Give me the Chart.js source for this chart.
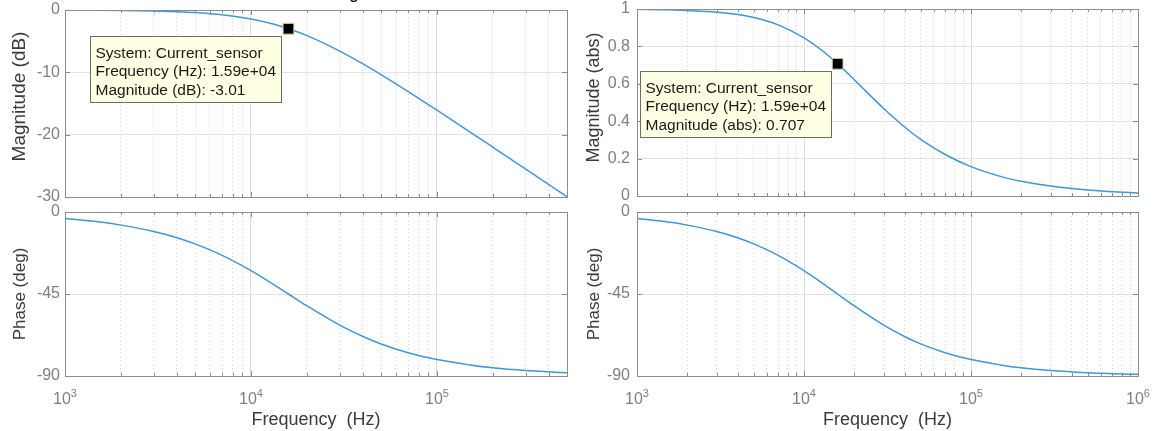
<!DOCTYPE html>
<html>
<head>
<meta charset="utf-8">
<script src="https://cdn.jsdelivr.net/npm/chart.js@4.4.1/dist/chart.umd.min.js"></script>
<style>
  body { margin: 0; background: #fff; width: 1156px; height: 431px; overflow: hidden; position: relative; }
  .pane { position: absolute; }
</style>
</head>
<body>
<div class="pane" style="left:0;top:0;width:580px;height:215px"><canvas id="magDbChart"></canvas></div>
<div class="pane" style="left:0;top:195px;width:580px;height:236px"><canvas id="phaseLeftChart"></canvas></div>
<div class="pane" style="left:580px;top:0;width:576px;height:215px"><canvas id="magAbsChart"></canvas></div>
<div class="pane" style="left:580px;top:195px;width:576px;height:236px"><canvas id="phaseRightChart"></canvas></div>
<script>
// values (first order low-pass, corner near 15.9 kHz)
const freqHz   = [1000, 1500, 2000, 3000, 4000, 5000, 7000, 10000, 13000, 15900, 20000, 30000, 40000, 50000, 70000, 100000, 150000, 200000, 300000, 500000, 700000, 1000000];
const magDb    = [-0.02, -0.04, -0.07, -0.15, -0.27, -0.41, -0.77, -1.45, -2.22, -3.01, -4.12, -6.59, -8.65, -10.37, -13.09, -16.08, -19.54, -22.02, -25.53, -29.96, -32.88, -35.97];
const magAbs   = [0.998, 0.996, 0.992, 0.983, 0.970, 0.954, 0.915, 0.846, 0.774, 0.707, 0.622, 0.468, 0.369, 0.303, 0.222, 0.157, 0.105, 0.079, 0.053, 0.032, 0.023, 0.016];
const phaseDeg = [-3.6, -5.4, -7.2, -10.7, -14.1, -17.5, -23.8, -32.2, -39.3, -45.0, -51.5, -62.1, -68.3, -72.4, -77.2, -81.0, -83.9, -85.5, -87.0, -88.2, -88.7, -89.1];

const xDecades = [1000, 10000, 100000, 1000000];
const xDecadeExps = ['3', '4', '5', '6'];
const xGridTicks = [];
xDecades.forEach(d => { for (let k = 1; k <= 9; k++) xGridTicks.push(k * d); });

const tipFreq = 15900;
const tipDb = -3.01;
const tipAbs = 0.707;
const tipLinesDb  = ['System: Current_sensor', 'Frequency (Hz): 1.59e+04', 'Magnitude (dB): -3.01'];
const tipLinesAbs = ['System: Current_sensor', 'Frequency (Hz): 1.59e+04', 'Magnitude (abs): 0.707'];

const fontFamily = '"Liberation Sans", Arial, Helvetica, sans-serif';
const curveBlue = '#3e98d4';
const boxGrey = '#8c8c8c';
const labelGrey = '#7f7f7f';
const titleGrey = '#3a3a3a';

Chart.defaults.font.family = fontFamily;

const isDecade = v => Math.abs(Math.log10(v) - Math.round(Math.log10(v))) < 1e-9;

// MATLAB style box, inward ticks, 10^n labels, y titles and data tips
const matlabAxes = {
  id: 'matlabAxes',
  afterDraw(chart, args, opts) {
    const { ctx, chartArea: a } = chart;
    const xs = chart.scales.x, ys = chart.scales.y;
    ctx.save();
    ctx.strokeStyle = boxGrey;
    ctx.lineWidth = 1;
    ctx.beginPath();
    xs.ticks.forEach(t => {
      const px = Math.round(xs.getPixelForValue(t.value)) + 0.5;
      const len = isDecade(t.value) ? 5 : 3;
      ctx.moveTo(px, a.bottom); ctx.lineTo(px, a.bottom - len);
      ctx.moveTo(px, a.top); ctx.lineTo(px, a.top + len);
    });
    ys.ticks.forEach(t => {
      const py = Math.round(ys.getPixelForValue(t.value)) + 0.5;
      ctx.moveTo(a.left, py); ctx.lineTo(a.left + 5, py);
      ctx.moveTo(a.right, py); ctx.lineTo(a.right - 5, py);
    });
    ctx.stroke();
    ctx.strokeRect(Math.round(a.left) + 0.5, Math.round(a.top) + 0.5, Math.round(a.right - a.left), Math.round(a.bottom - a.top));

    // y axis title
    ctx.save();
    ctx.translate(opts.yTitleX, (a.top + a.bottom) / 2 + opts.yTitleShift);
    ctx.rotate(-Math.PI / 2);
    ctx.fillStyle = titleGrey;
    ctx.font = opts.yTitleSize + 'px ' + fontFamily;
    ctx.textAlign = 'center';
    ctx.textBaseline = 'middle';
    ctx.fillText(opts.yTitle, 0, 0);
    ctx.restore();

    if (opts.decadeLabels) {
      ctx.fillStyle = labelGrey;
      ctx.textBaseline = 'alphabetic';
      ctx.textAlign = 'left';
      xDecades.forEach((d, i) => {
        if (d < xs.min || d > xs.max) return;
        const px = xs.getPixelForValue(d);
        ctx.font = '16px ' + fontFamily;
        const wBase = ctx.measureText('10').width;
        ctx.font = '11px ' + fontFamily;
        const wExp = ctx.measureText(xDecadeExps[i]).width;
        const x0 = px - (wBase + wExp) / 2;
        ctx.font = '16px ' + fontFamily;
        ctx.fillText('10', x0, a.bottom + 28);
        ctx.font = '11px ' + fontFamily;
        ctx.fillText(xDecadeExps[i], x0 + wBase, a.bottom + 21);
      });
    }

    if (opts.tip) {
      const px = xs.getPixelForValue(opts.tip.x);
      const py = ys.getPixelForValue(opts.tip.y);
      const bx = Math.round(px - 198) + 0.5, by = Math.round(py + 7) + 0.5;
      ctx.fillStyle = '#ffffe3';
      ctx.strokeStyle = '#6e6e6e';
      ctx.fillRect(bx, by, 191, 66);
      ctx.strokeRect(bx, by, 191, 66);
      ctx.fillStyle = '#1a1a1a';
      ctx.font = '15.5px ' + fontFamily;
      ctx.textAlign = 'left';
      ctx.textBaseline = 'middle';
      opts.tip.lines.forEach((line, i) => ctx.fillText(line, bx + 5, by + 17 + i * 18.7));
    }

    if (opts.title) {
      ctx.fillStyle = '#1a1a1a';
      ctx.font = 'bold 15px ' + fontFamily;
      ctx.textAlign = 'center';
      ctx.textBaseline = 'alphabetic';
      ctx.fillText(opts.title, (a.left + a.right) / 2 + 19, -1);
    }
    ctx.restore();
  }
};

function bodeChart(canvasId, o) {
  const datasets = [{
    data: o.values.map((v, i) => ({ x: freqHz[i], y: v })),
    borderColor: curveBlue,
    borderWidth: 1.5,
    pointRadius: 0,
    cubicInterpolationMode: 'monotone',
    order: 1
  }];
  if (o.tip) {
    datasets.push({
      data: [{ x: o.tip.x, y: o.tip.y }],
      showLine: false,
      pointStyle: 'rect',
      pointRadius: 7.6,
      backgroundColor: '#000',
      borderColor: '#cfc9a0',
      borderWidth: 1,
      order: 0
    });
  }
  return new Chart(document.getElementById(canvasId), {
    type: 'line',
    data: { datasets: datasets },
    options: {
      responsive: true,
      maintainAspectRatio: false,
      animation: false,
      layout: { padding: { top: o.padTop, right: o.padRight, left: 0, bottom: 0 } },
      plugins: {
        legend: { display: false },
        tooltip: { enabled: false },
        matlabAxes: {
          tip: o.tip, decadeLabels: o.xTitle, title: o.title,
          yTitle: o.yTitle, yTitleX: o.yTitleX, yTitleShift: o.yTitleShift, yTitleSize: o.yTitleSize
        }
      },
      scales: {
        x: {
          type: 'logarithmic',
          min: 1000,
          max: o.xMax,
          afterBuildTicks: s => {
            s.ticks = xGridTicks.filter(v => v >= s.min && v <= s.max).map(v => ({ value: v }));
          },
          afterFit: s => { s.height = o.xHeight; s.paddingLeft = 0; s.paddingRight = 0; },
          ticks: { display: false },
          grid: {
            drawTicks: false,
            color: ctx => (ctx.tick && isDecade(ctx.tick.value)) ? '#dcdcdc' : '#d2d2d2',
            lineWidth: 1
          },
          border: {
            display: false,
            dash: ctx => (ctx.tick && !isDecade(ctx.tick.value)) ? [1, 3] : []
          },
          title: {
            display: !!o.xTitle,
            text: 'Frequency  (Hz)',
            color: titleGrey,
            font: { size: 18 },
            padding: { top: 0, bottom: 0 }
          }
        },
        y: {
          min: o.yMin,
          max: o.yMax,
          afterFit: s => { s.width = o.yWidth; s.paddingTop = 0; s.paddingBottom = 0; },
          ticks: {
            stepSize: o.yStep,
            padding: o.tickPad,
            color: labelGrey,
            font: { size: 16 },
            callback: v => String(Math.round(v * 10) / 10)
          },
          grid: { drawTicks: false, color: '#e3e3e3', lineWidth: 1 },
          border: { display: false },
          title: { display: false }
        }
      }
    },
    plugins: [matlabAxes]
  });
}

bodeChart('magDbChart', {
  values: magDb, xMax: 500000, yMin: -30, yMax: 0, yStep: 10,
  yTitle: 'Magnitude (dB)', yTitleX: 20, yTitleShift: -7, yTitleSize: 19,
  padTop: 10, padRight: 13, xHeight: 18, yWidth: 65, tickPad: 5,
  tip: { x: tipFreq, y: tipDb, lines: tipLinesDb }, title: 'Bode Diagram'
});
bodeChart('phaseLeftChart', {
  values: phaseDeg, xMax: 500000, yMin: -90, yMax: 0, yStep: 45,
  yTitle: 'Phase (deg)', yTitleX: 20, yTitleShift: 0, yTitleSize: 17,
  padTop: 17, padRight: 13, xHeight: 55, yWidth: 65, tickPad: 5, xTitle: true
});
bodeChart('magAbsChart', {
  values: magAbs, xMax: 1000000, yMin: 0, yMax: 1, yStep: 0.2,
  yTitle: 'Magnitude (abs)', yTitleX: 14, yTitleShift: -5, yTitleSize: 18,
  padTop: 9, padRight: 18, xHeight: 19, yWidth: 57, tickPad: 7,
  tip: { x: tipFreq, y: tipAbs, lines: tipLinesAbs }
});
bodeChart('phaseRightChart', {
  values: phaseDeg, xMax: 1000000, yMin: -90, yMax: 0, yStep: 45,
  yTitle: 'Phase (deg)', yTitleX: 14, yTitleShift: 0, yTitleSize: 17,
  padTop: 17, padRight: 18, xHeight: 55, yWidth: 57, tickPad: 7, xTitle: true
});
</script>
</body>
</html>
